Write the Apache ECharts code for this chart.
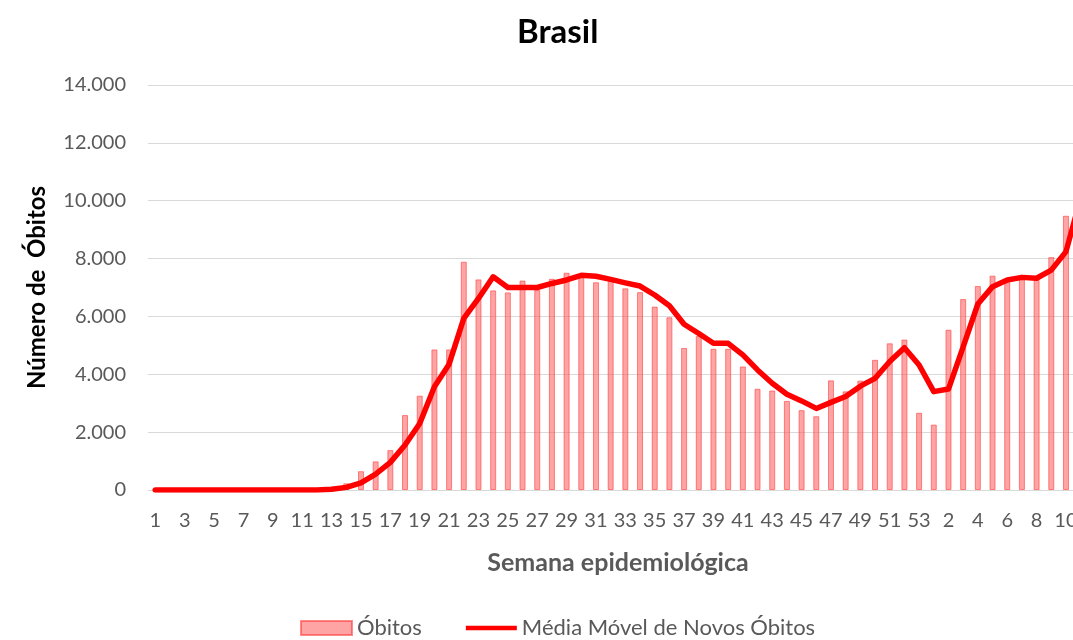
<!DOCTYPE html>
<html>
<head>
<meta charset="utf-8">
<script src="https://cdn.jsdelivr.net/npm/echarts@6/dist/echarts.min.js"></script>
<style>
  html, body { margin: 0; padding: 0; background: #fff; }
  #main { width: 1073px; height: 640px; overflow: hidden; }
</style>
</head>
<body>
<div id="main"></div>
<script>
  // semanas epidemiológicas: 2020 (1-53) seguido de 2021 (1-11)
  var weeks = [];
  for (var w = 1; w <= 53; w++) weeks.push(String(w));
  for (var w2 = 1; w2 <= 11; w2++) weeks.push(String(w2));

  // óbitos por semana
  var obitos = [
    0, 0, 0, 0, 0, 0, 0, 0, 0, 0,
    0, 0, 30, 230, 650, 990, 1380, 2590, 3260, 4860,
    4860, 7890, 7280, 6900, 6830, 7240, 6910, 7300, 7510, 7430,
    7180, 7230, 6970, 6840, 6340, 5970, 4910, 5320, 4880, 4880,
    4270, 3500, 3440, 3080, 2760, 2550, 3790, 3410, 3780, 4500,
    5070, 5200, 2670, 2260, 5540, 6600, 7050, 7410, 7180, 7330,
    7260, 8050, 9480, 10300
  ];

  // média móvel de novos óbitos
  var mediaMovel = [
    0, 0, 0, 0, 0, 0, 0, 0, 0, 0,
    0, 0, 25, 90, 250, 550, 955, 1555, 2300, 3570,
    4350, 5930, 6620, 7370, 7000, 7000, 7000, 7140, 7260, 7420,
    7390, 7280, 7160, 7050, 6740, 6370, 5730, 5410, 5070, 5070,
    4670, 4150, 3690, 3310, 3080, 2820, 3030, 3230, 3590, 3860,
    4440, 4920, 4320, 3400, 3490, 4950, 6430, 7030, 7260, 7350,
    7320, 7600, 8240, 10100
  ];

  var yTicks = { min: 0, max: 14000, interval: 2000 };

  function fmt(v) {
    return String(v).replace(/\B(?=(\d{3})+(?!\d))/g, '.');
  }

  var font = 'Lato, "Open Sans", sans-serif';
  var chart = echarts.init(document.getElementById('main'));

  chart.setOption({
    animation: false,
    textStyle: { fontFamily: font },
    title: {
      text: 'Brasil',
      left: 512,
      top: 11,
      textStyle: { fontFamily: font, fontSize: 33, fontWeight: 'bold', color: '#000' }
    },
    legend: {
      top: 612,
      left: 295,
      itemWidth: 51,
      itemHeight: 14,
      itemGap: 44,
      textStyle: { fontFamily: font, fontSize: 22, color: '#595959' },
      data: [
        { name: 'Óbitos', icon: 'rect' },
        { name: 'Média Móvel de Novos Óbitos', icon: 'path://M0,0 L55,0 L55,5 L0,5 Z' }
      ]
    },
    grid: {
      left: 148,
      right: -15,
      top: 85,
      bottom: 150,
      outerBoundsMode: 'none'
    },
    xAxis: {
      type: 'category',
      data: weeks,
      name: 'Semana epidemiológica',
      nameLocation: 'middle',
      nameGap: 60,
      nameTextStyle: { fontFamily: font, fontSize: 25, fontWeight: 'bold', color: '#595959' },
      axisLine: { lineStyle: { color: '#d9d9d9', width: 1 } },
      axisTick: { show: false },
      axisLabel: { interval: 1, margin: 21, fontSize: 20, color: '#595959', fontFamily: font }
    },
    yAxis: {
      type: 'value',
      min: yTicks.min,
      max: yTicks.max,
      interval: yTicks.interval,
      name: 'Número de  Óbitos',
      nameLocation: 'middle',
      nameGap: 99,
      nameTextStyle: { fontFamily: font, fontSize: 24, fontWeight: 'bold', color: '#000' },
      axisLine: { show: false },
      axisTick: { show: false },
      axisLabel: { margin: 22, fontSize: 20, color: '#595959', fontFamily: font, formatter: fmt },
      splitLine: { lineStyle: { color: '#d9d9d9', width: 1 } }
    },
    series: [
      {
        name: 'Óbitos',
        type: 'bar',
        data: obitos,
        barWidth: 6,
        itemStyle: {
          color: 'rgba(255, 90, 90, 0.55)',
          borderColor: 'rgba(255, 60, 60, 0.6)',
          borderWidth: 1
        }
      },
      {
        name: 'Média Móvel de Novos Óbitos',
        type: 'line',
        data: mediaMovel,
        symbol: 'none',
        z: 3,
        lineStyle: { color: '#ff0000', width: 5.5, join: 'round', cap: 'round' },
        itemStyle: { color: '#ff0000' }
      }
    ]
  });
</script>
</body>
</html>
